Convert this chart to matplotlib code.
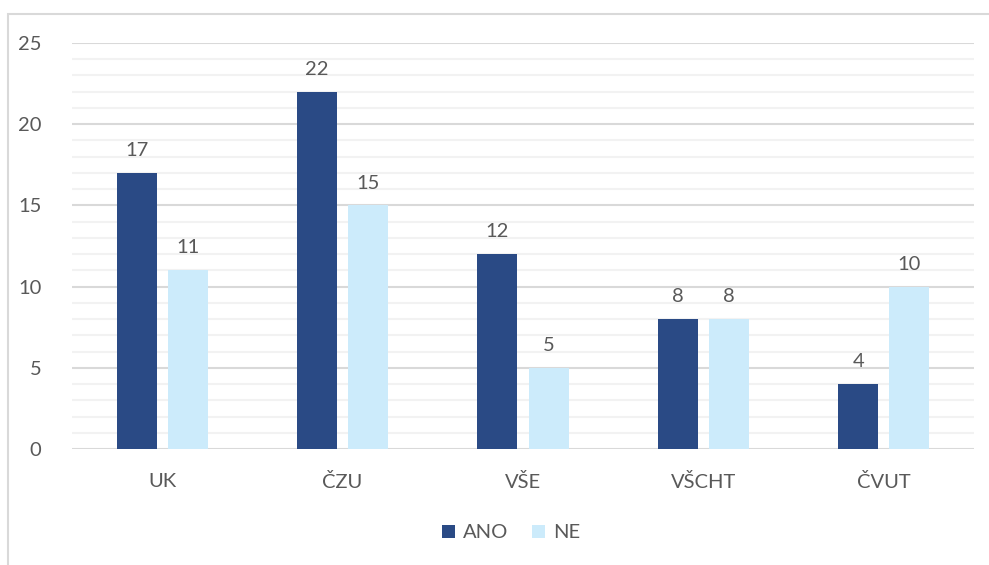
import matplotlib.pyplot as plt
from matplotlib.patches import Rectangle
import numpy as np

categories = ['UK', 'ČZU', 'VŠE', 'VŠCHT', 'ČVUT']
ano = [17, 22, 12, 8, 4]
ne = [11, 15, 5, 8, 10]

plt.rcParams['font.family'] = ['Lato', 'DejaVu Sans']
text_col = '#595959'
c_ano = '#2A4A85'
c_ne = '#CCEBFB'
fs = 14.5

fig = plt.figure(figsize=(9.89, 5.65), dpi=100)
ax = fig.add_axes([72/989, 1-449/565, 902/989, 406/565])

# outer chart border
fig.patches.append(Rectangle((8/989, -0.1), 1.2, 1-14/565+0.1, transform=fig.transFigure,
                             fill=False, edgecolor='#D9D9D9', linewidth=1.5))

x = np.arange(len(categories))
w = 0.222
gap = 0.061
b1 = ax.bar(x - (w+gap)/2, ano, w, color=c_ano, label='ANO', zorder=3)
b2 = ax.bar(x + (w+gap)/2, ne, w, color=c_ne, label='NE', zorder=3)

for bars in (b1, b2):
    for r in bars:
        h = r.get_height()
        ax.annotate(str(int(h)), (r.get_x() + r.get_width()/2, h), xytext=(0, 10),
                    textcoords='offset points', ha='center', va='bottom',
                    fontsize=fs, color=text_col)

ax.set_xlim(-0.5, 4.5)
ax.set_ylim(0, 25)
ax.set_yticks(range(0, 26, 5))
ax.set_yticks(range(0, 26, 1), minor=True)
ax.grid(axis='y', which='major', color='#D9D9D9', linewidth=1.5, zorder=0)
ax.grid(axis='y', which='minor', color='#F2F2F2', linewidth=1.5, zorder=0)
ax.set_xticks(x)
ax.set_xticklabels(categories)
ax.tick_params(axis='both', which='both', length=0, labelsize=fs, colors=text_col)
ax.tick_params(axis='x', pad=17)
ax.tick_params(axis='y', pad=22)
for s in ax.spines.values():
    s.set_visible(False)

fig.legend(handles=[b1, b2], labels=['ANO', 'NE'], loc='center', bbox_to_anchor=(511/989, 1-533/565),
           ncol=2, frameon=False, fontsize=fs, labelcolor=text_col, handlelength=0.65, handleheight=0.65,
           handletextpad=0.4, columnspacing=1.2)

fig.savefig('out.png', dpi=100, facecolor='white')
